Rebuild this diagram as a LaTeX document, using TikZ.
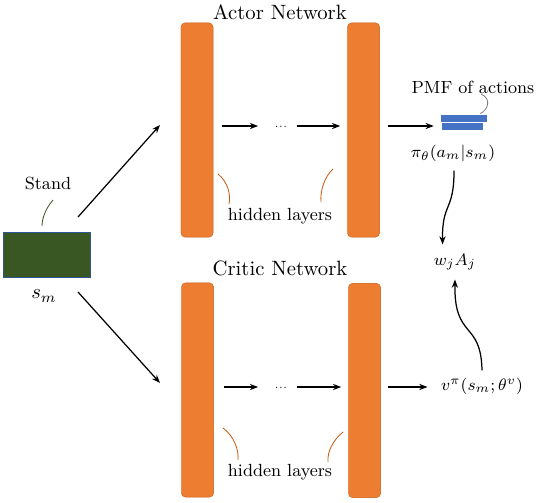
\documentclass[tikz,border=0pt]{standalone}
\usepackage{amsmath}
\usepackage{amssymb}
\usepackage{tikz}
\usepackage{xcolor}
\usetikzlibrary{arrows.meta}
\definecolor{layerorange}{RGB}{237,125,49}
\definecolor{layeredge}{RGB}{197,90,17}
\definecolor{standgreen}{RGB}{56,87,35}
\definecolor{standedge}{RGB}{47,85,151}
\definecolor{pmfblue}{RGB}{68,114,196}
\tikzset{
    layer-bar/.style = {draw=layeredge, fill=layerorange, very thin, rectangle, rounded corners=2pt, minimum width=15.5pt, minimum height=103.5pt, inner sep=0pt},
    state-box/.style = {draw=standedge, fill=standgreen, thin, rectangle, minimum width=42pt, minimum height=21.7pt, inner sep=0pt},
    pmf-bar/.style = {fill=pmfblue, draw=pmfblue, rectangle, minimum height=2.9pt, inner sep=0pt},
    net-title/.style = {font=\normalsize},
    small-label/.style = {font=\fontsize{8.5}{10}\selectfont},
    flow-arrow/.style = {-{Stealth[length=4pt,width=3pt]}, semithick},
    hint-curve/.style = {draw=layeredge, thin},
}

\begin{document}
\begin{tikzpicture}[x=0.483pt, y=-0.483pt]
\useasboundingbox (0,0) rectangle (536,502);
% input state
\node [state-box] (state) at (47,254.5) {};
\node [small-label] (stand) at (48,183) {Stand};
\node (sm) at (44,296) {$s_m$};
\draw [standgreen, thin] (53,200) .. controls (46,208) and (42,218) .. (42,226);

% actor network
\node [net-title] (actor-title) at (280,12) {Actor Network};
\node [layer-bar] (actor-l1) at (197,130) {};
\node [layer-bar] (actor-l2) at (363.5,130) {};
\node [font=\tiny] (actor-dots) at (281,127) {...};
\node [pmf-bar, minimum width=22pt] (pmf-a) at (464,118) {};
\node [pmf-bar, minimum width=19.3pt] (pmf-b) at (462,126) {};
\node [small-label] (pmf-text) at (473,87) {PMF of actions};
\node [small-label] (policy) at (453,153) {$\pi_\theta(a_m|s_m)$};
\node [small-label] (actor-hidden) at (280,216) {hidden layers};
\coordinate (actor-row) at (0,126);

% critic network
\node [net-title] (critic-title) at (280,268) {Critic Network};
\node [layer-bar] (critic-l1) at (197.5,390) {};
\node [layer-bar] (critic-l2) at (364.5,390.5) {};
\node [font=\tiny] (critic-dots) at (281,388) {...};
\node [small-label] (value) at (482,386) {$v^\pi(s_m;\theta^v)$};
\node [small-label] (critic-hidden) at (280,472) {hidden layers};
\coordinate (critic-row) at (0,387);

% advantage
\node [small-label] (adv) at (455,262) {$w_jA_j$};

% connectors
\coordinate (fork-up) at (78,217);
\coordinate (fork-down) at (78,292);
\draw [flow-arrow] (fork-up) -- (160,125);
\draw [flow-arrow] (fork-down) -- (160,383);
\draw [flow-arrow, shorten <=4.3pt, shorten >=4.5pt] (actor-l1.east |- actor-row) -- (actor-dots.west |- actor-row);
\draw [flow-arrow, shorten <=1pt, shorten >=3.4pt] (actor-dots.east |- actor-row) -- (actor-l2.west |- actor-row);
\draw [flow-arrow, shorten <=3.8pt, shorten >=3.8pt] (actor-l2.east |- actor-row) -- (pmf-b.west |- actor-row);
\draw [flow-arrow, shorten <=4.8pt, shorten >=4.5pt] (critic-l1.east |- critic-row) -- (critic-dots.west |- critic-row);
\draw [flow-arrow, shorten <=1pt, shorten >=3.4pt] (critic-dots.east |- critic-row) -- (critic-l2.west |- critic-row);
\draw [flow-arrow, shorten <=3.4pt, shorten >=3pt] (critic-l2.east |- critic-row) -- (value.west |- critic-row);
\draw [flow-arrow] ([xshift=0.5pt, yshift=-1pt]policy.south) .. controls (454,212) and (442,202) .. ([xshift=-6pt, yshift=1pt]adv.north);
\draw [flow-arrow] ([yshift=0pt]value.north) .. controls (481,320) and (454,340) .. ([yshift=-1pt]adv.south);

% hint curves
\draw [gray, thin] (pmf-a.north east) ++(-7,-1) .. controls (488,110) and (492,99) .. (481,94);
\draw [hint-curve] (218,174) .. controls (228,182) and (231,195) .. (229,204);
\draw [hint-curve] (333,169) .. controls (324,177) and (320,192) .. (321,202);
\draw [hint-curve] (223,428) .. controls (234,436) and (239,450) .. (238,460);
\draw [hint-curve] (343,432) .. controls (333,440) and (327,452) .. (328,462);
\end{tikzpicture}
\end{document}
